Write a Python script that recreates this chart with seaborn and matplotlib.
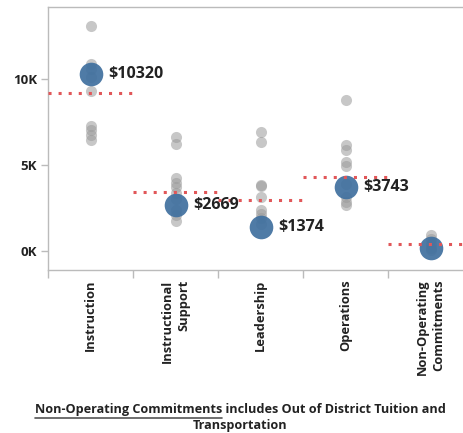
import numpy as np
import pandas as pd
import matplotlib
matplotlib.use("Agg")
import matplotlib.pyplot as plt
from matplotlib.lines import Line2D
import seaborn as sns

# categories on the x axis
categories = ["Instruction", "Instructional\nSupport", "Leadership", "Operations",
              "Non-Operating\nCommitments"]

# grey dots: all districts, per category
instruction = [13100, 10900, 10600, 10100, 9300, 7300, 7050, 6750, 6450]
instr_support = [6650, 6200, 4250, 3950, 3700, 3400, 3050, 2400, 2100, 1750]
leadership = [6900, 6350, 3850, 3800, 3150, 2400, 2150, 1900, 1600]
operations = [8800, 6150, 5850, 5150, 4950, 3900, 3150, 2850, 2650]
non_operating = [950, 700, 400, 150, 50]

# highlighted district (blue) and the average (red dotted line)
district_values = [10320, 2669, 1374, 3743, 150]
district_labels = ["$10320", "$2669", "$1374", "$3743", ""]
average_values = [9200, 3430, 2970, 4280, 400]

y_ticks = [0, 5000, 10000]
y_tick_labels = ["0K", "5K", "10K"]

caption_underlined = "Non-Operating Commitments"
caption_rest = " includes Out of District Tuition and"
caption_line2 = "Transportation"

groups = [instruction, instr_support, leadership, operations, non_operating]
df = pd.DataFrame({
    "category": [c for c, g in zip(categories, groups) for _ in g],
    "value": [v for g in groups for v in g],
})
df_district = pd.DataFrame({"category": categories, "value": district_values})

sns.set_style("white")
plt.rcParams["font.family"] = ["Open Sans", "DejaVu Sans"]

fig = plt.figure(figsize=(4.64, 4.33), dpi=100)
ax = fig.add_axes([48 / 464, 1 - 270 / 433, 425 / 464, 263 / 433])

sns.stripplot(data=df, x="category", y="value", order=categories, jitter=False,
              color="#9a9a9a", alpha=0.55, size=8, linewidth=0, ax=ax, zorder=2)
sns.stripplot(data=df_district, x="category", y="value", order=categories, jitter=False,
              color="#40709f", alpha=0.92, size=17, linewidth=0, ax=ax, zorder=3)

for i, avg in enumerate(average_values):
    ax.hlines(avg, i - 0.5, i + 0.5, colors="#e15759", linewidth=2.2,
              linestyles=(0, (1, 2.3)), zorder=4)

for i, (v, lab) in enumerate(zip(district_values, district_labels)):
    if lab:
        ax.annotate(lab, (i, v), xytext=(13, 0), textcoords="offset points",
                    va="center", ha="left", fontsize=11.5, fontweight="bold",
                    color="#222222", zorder=5)

ax.set_xlim(-0.5, len(categories) - 0.5)
ax.set_ylim(-1100, 14190)
ax.set_xlabel("")
ax.set_ylabel("")

ax.set_yticks(y_ticks)
ax.set_yticklabels(y_tick_labels, fontsize=9.5, fontweight="bold", color="#222222")
ax.tick_params(axis="y", direction="out", length=5, width=1, color="#bbbbbb",
               left=True, pad=3)

ax.set_xticks(np.arange(len(categories) + 1) - 0.5)
ax.set_xticklabels([])
ax.set_xticks(np.arange(len(categories)), minor=True)
ax.set_xticklabels(categories, minor=True, rotation=90, fontsize=9.3,
                   fontweight="bold", color="#222222", va="top", ha="center",
                   multialignment="right", linespacing=1.3)
ax.tick_params(axis="x", which="major", direction="out", length=6, width=1,
               color="#bbbbbb", bottom=True)
ax.tick_params(axis="x", which="minor", length=0, pad=7)

for side in ["left", "top", "bottom", "right"]:
    ax.spines[side].set_color("#bbbbbb")
    ax.spines[side].set_linewidth(1)

# caption with the underlined part
props = dict(fontsize=9.1, fontweight="bold", color="#222222")
t1 = fig.text(240.5 / 464, 1 - 410 / 433, caption_underlined + caption_rest,
              ha="center", va="center", **props)
fig.text(240.5 / 464, 1 - 426 / 433, caption_line2, ha="center", va="center", **props)

fig.canvas.draw()
r = fig.canvas.get_renderer()
bb = t1.get_window_extent(r)
tmp = fig.text(0, 0, caption_underlined, **props)
w = tmp.get_window_extent(r).width
tmp.remove()
x0, x1 = bb.x0 / 464, (bb.x0 + w) / 464
yl = (bb.y0 - 1) / 433
fig.add_artist(Line2D([x0, x1], [yl, yl], color="#555555", linewidth=1.2,
                      transform=fig.transFigure))

fig.savefig("out.png", dpi=100)
